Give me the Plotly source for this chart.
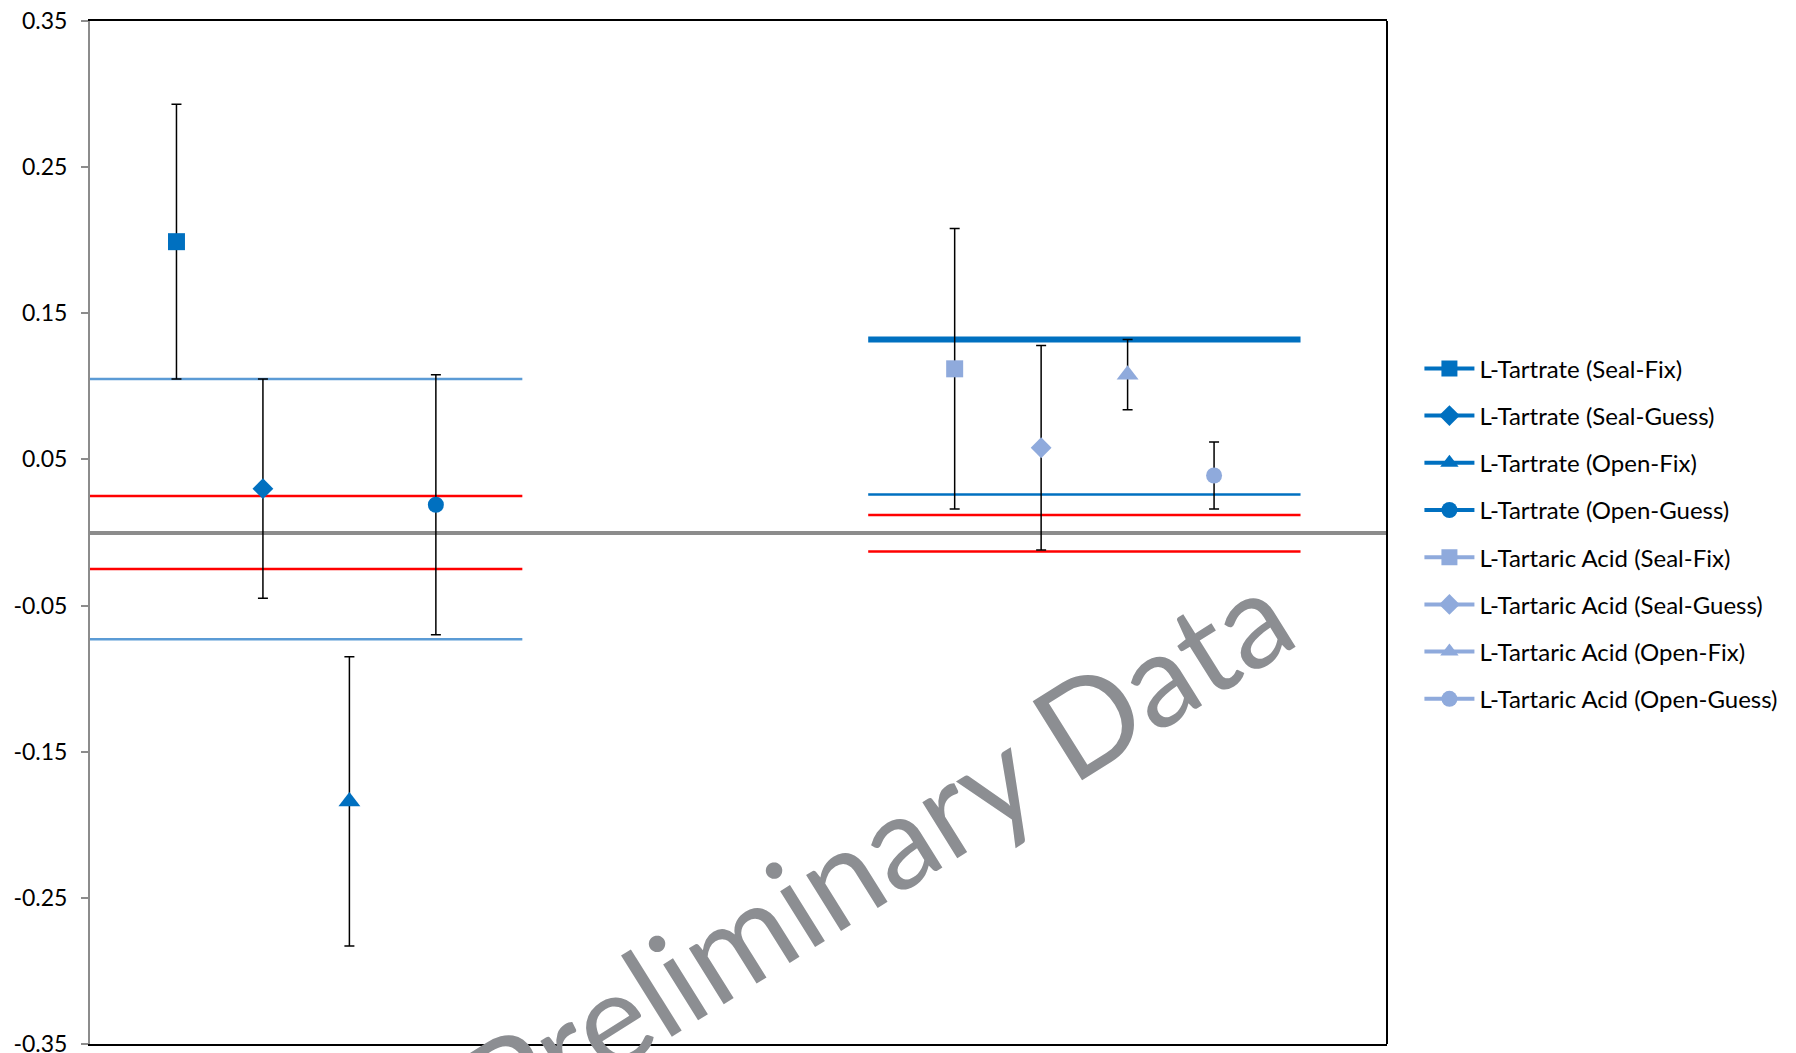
import plotly.graph_objects as go

# ---- data ----
series_names = [
    "L-Tartrate (Seal-Fix)", "L-Tartrate (Seal-Guess)", "L-Tartrate (Open-Fix)", "L-Tartrate (Open-Guess)",
    "L-Tartaric Acid (Seal-Fix)", "L-Tartaric Acid (Seal-Guess)", "L-Tartaric Acid (Open-Fix)", "L-Tartaric Acid (Open-Guess)",
]
series_x = [1, 2, 3, 4, 10, 11, 12, 13]
series_y = [0.199, 0.030, -0.184, 0.019, 0.112, 0.058, 0.108, 0.039]
series_err = [0.094, 0.075, 0.099, 0.089, 0.096, 0.070, 0.024, 0.023]
series_symbols = ["square", "diamond", "triangle-up", "circle", "square", "diamond", "triangle-up", "circle"]

# reference bands: (x start, x end, y value)
left_band_x = [0, 5]
left_blue_levels = [0.105, -0.073]
left_red_levels = [0.025, -0.025]
right_band_x = [9, 14]
right_thick_level = 0.132
right_blue_level = 0.026
right_red_levels = [0.012, -0.013]

y_ticks = [0.35, 0.25, 0.15, 0.05, -0.05, -0.15, -0.25, -0.35]

DARK = "#0070C0"
LIGHT = "#8FAADC"
colors = [DARK] * 4 + [LIGHT] * 4
sizes = {"square": 17, "diamond": 16, "triangle-up": 19, "circle": 16}

fig = go.Figure()

# band lines
for lv in left_blue_levels:
    fig.add_trace(go.Scatter(x=left_band_x, y=[lv, lv], mode="lines",
                             line=dict(color="#5B9BD5", width=2.5), showlegend=False, hoverinfo="skip"))
for lv in left_red_levels:
    fig.add_trace(go.Scatter(x=left_band_x, y=[lv, lv], mode="lines",
                             line=dict(color="#FF0000", width=2.5), showlegend=False, hoverinfo="skip"))
fig.add_trace(go.Scatter(x=right_band_x, y=[right_blue_level] * 2, mode="lines",
                         line=dict(color=DARK, width=2.5), showlegend=False, hoverinfo="skip"))
for lv in right_red_levels:
    fig.add_trace(go.Scatter(x=right_band_x, y=[lv, lv], mode="lines",
                             line=dict(color="#FF0000", width=2.5), showlegend=False, hoverinfo="skip"))
fig.add_trace(go.Scatter(x=right_band_x, y=[right_thick_level] * 2, mode="lines",
                         line=dict(color=DARK, width=6), showlegend=False, hoverinfo="skip"))

# data series
for i, name in enumerate(series_names):
    sym = series_symbols[i]
    fig.add_trace(go.Scatter(
        x=[series_x[i]], y=[series_y[i]], name=name, mode="lines+markers",
        line=dict(color=colors[i], width=4),
        marker=dict(symbol=sym, size=sizes[sym], color=colors[i], line=dict(width=0)),
        error_y=dict(type="data", array=[series_err[i]], color="black", thickness=1.5, width=5),
        legendgroup=name,
    ))

# watermark
fig.add_annotation(
    text="Preliminary Data", xref="paper", yref="paper", x=0.606, y=0.19,
    showarrow=False, textangle=-32,
    font=dict(family="Lato, sans-serif", size=130, color="#8C8E92"),
    xanchor="center", yanchor="middle",
)

# right border
fig.add_shape(type="line", xref="paper", yref="paper", x0=1, x1=1, y0=0, y1=1,
              line=dict(color="black", width=2))

fig.update_layout(
    width=1796, height=1053,
    margin=dict(l=82, r=417, t=13, b=17, autoexpand=False),
    paper_bgcolor="white", plot_bgcolor="white",
    font=dict(family="Lato, sans-serif", color="black"),
    showlegend=True,
    legend=dict(x=1.025, xanchor="left", y=0.682, yanchor="top",
                font=dict(size=24, color="black"), tracegroupgap=13,
                itemwidth=50, bgcolor="rgba(0,0,0,0)"),
    xaxis=dict(range=[0, 15], showgrid=False, zeroline=False, showticklabels=False,
               ticks="", showline=True, linecolor="black", linewidth=2, mirror=True,
               automargin=False),
    yaxis=dict(range=[-0.35, 0.35], tickvals=y_ticks, ticktext=[f"{v:.2f}" for v in y_ticks],
               showgrid=False, zeroline=True, zerolinecolor="#8C8C8C", zerolinewidth=3.5,
               showline=True, linecolor="#8C8C8C", linewidth=2, ticks="outside",
               ticklen=7, tickcolor="#8C8C8C", tickwidth=1.5,
               tickfont=dict(size=23, color="black"), ticklabelstandoff=9,
               ticklabeloverflow="allow", automargin=False),
)

fig.write_html("out.html")
